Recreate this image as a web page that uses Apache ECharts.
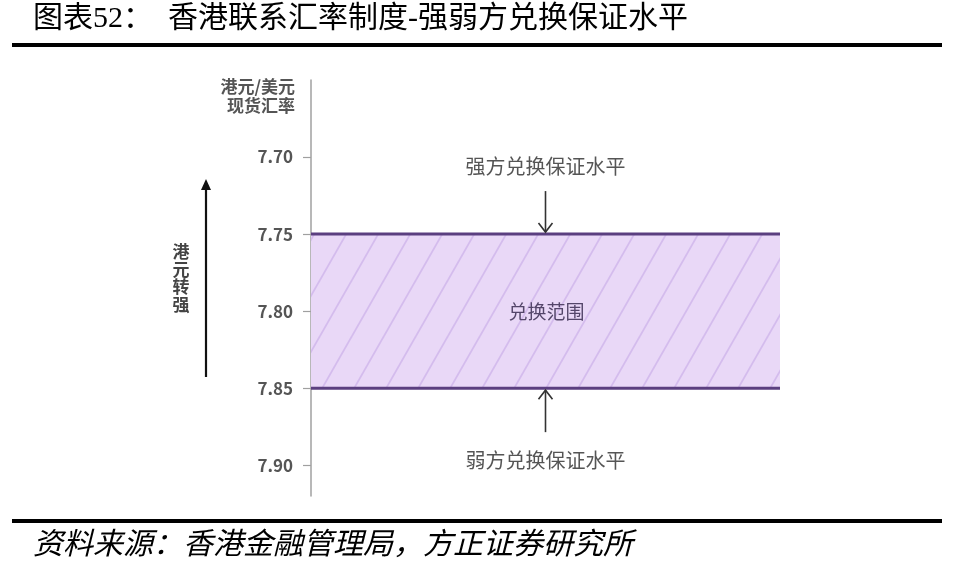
<!DOCTYPE html>
<html><head><meta charset="utf-8">
<script src="https://cdn.jsdelivr.net/npm/echarts@6/dist/echarts.min.js"></script>
<style>html,body{margin:0;padding:0;background:#fff}#c{width:954px;height:571px}</style>
</head><body><div id="c"></div>
<script>
// ---- data ----
const titleText = '图表52：  香港联系汇率制度-强弱方兑换保证水平';
const sourceText = '资料来源：香港金融管理局，方正证券研究所';
const yTicks = [7.70, 7.75, 7.80, 7.85, 7.90];
const yRange = [7.65, 7.92];
const bandBounds = [7.75, 7.85];          // strong-side, weak-side convertibility undertakings
const bandLabel = '兑换范围';
const strongLabel = '强方兑换保证水平';
const weakLabel = '弱方兑换保证水平';
const axisNameLines = ['港元/美元', '现货汇率'];
const sideLabel = '港元转强';

// ---- hatch pattern ----
function makePattern() {
  const W = 32, H = 56;
  const c = document.createElement('canvas');
  c.width = W; c.height = H;
  const g = c.getContext('2d');
  g.fillStyle = '#e9d8f7';
  g.fillRect(0, 0, W, H);
  g.strokeStyle = '#d4bced';
  g.lineWidth = 1.8;
  for (const [dx, dy] of [[0,0],[W,0],[-W,0],[0,H],[0,-H],[W,-H],[-W,H]]) {
    g.beginPath();
    g.moveTo(0 + dx, H + dy);
    g.lineTo(W + dx, 0 + dy);
    g.stroke();
  }
  return c;
}
const hatch = makePattern();

const FONT = "'Noto Sans CJK SC', sans-serif";
const chart = echarts.init(document.getElementById('c'), null, {renderer: 'canvas'});

function chevron(x, y, dir) { // dir: 1 = pointing down, -1 = pointing up
  return {
    type: 'polyline',
    shape: {points: [[x - 7, y - dir * 9], [x, y], [x + 7, y - dir * 9]]},
    style: {stroke: '#333', lineWidth: 1.6, fill: null}
  };
}

chart.setOption({
  animation: false,
  backgroundColor: '#fff',
  grid: {left: 311, right: 174, top: 80, bottom: 75},
  xAxis: {type: 'value', min: 0, max: 1, show: false},
  yAxis: {
    type: 'value', inverse: true, min: yRange[0], max: yRange[1],
    axisLine: {show: true, lineStyle: {color: '#a0a0a0', width: 1.5}},
    axisTick: {show: true, length: 8, customValues: yTicks, lineStyle: {color: '#a0a0a0', width: 1.2}},
    axisLabel: {
      customValues: yTicks, margin: 18,
      formatter: v => v.toFixed(2),
      fontSize: 17, fontWeight: 'bold', color: '#555', fontFamily: FONT
    },
    splitLine: {show: false}
  },
  series: [{
    type: 'custom',
    data: [[bandBounds[0], bandBounds[1]]],
    renderItem: function (params, api) {
      const top = api.coord([0, api.value(0)]);
      const bot = api.coord([1, api.value(1)]);
      const x0 = top[0], x1 = bot[0], y0 = top[1], y1 = bot[1];
      const cx = (x0 + x1) / 2;
      const children = [
        {type: 'rect', shape: {x: x0, y: y0, width: x1 - x0, height: y1 - y0},
         style: {fill: {image: hatch, repeat: 'repeat'}}},
        {type: 'line', shape: {x1: x0, y1: y0, x2: x1, y2: y0}, style: {stroke: '#5b3f80', lineWidth: 3}},
        {type: 'line', shape: {x1: x0, y1: y1, x2: x1, y2: y1}, style: {stroke: '#5b3f80', lineWidth: 3}},
        {type: 'text', style: {text: bandLabel, x: cx + 1, y: (y0 + y1) / 2 + 1, align: 'center', verticalAlign: 'middle',
          fill: '#54466a', fontSize: 19, fontFamily: FONT}},
        // strong side arrow + label
        {type: 'line', shape: {x1: cx, y1: y0 - 43, x2: cx, y2: y0 - 2}, style: {stroke: '#333', lineWidth: 1.6}},
        chevron(cx, y0 - 2, 1),
        {type: 'text', style: {text: strongLabel, x: cx, y: y0 - 68, align: 'center', verticalAlign: 'middle',
          fill: '#555', fontSize: 20, fontFamily: FONT}},
        // weak side arrow + label
        {type: 'line', shape: {x1: cx, y1: y1 + 2, x2: cx, y2: y1 + 44}, style: {stroke: '#333', lineWidth: 1.6}},
        chevron(cx, y1 + 2, -1),
        {type: 'text', style: {text: weakLabel, x: cx, y: y1 + 72, align: 'center', verticalAlign: 'middle',
          fill: '#555', fontSize: 20, fontFamily: FONT}}
      ];
      return {type: 'group', children: children};
    }
  }],
  graphic: [
    {type: 'text', left: 33, top: 4, style: {text: titleText, fontSize: 30, fill: '#000',
      fontFamily: "'Liberation Serif', 'Noto Sans CJK SC', serif"}},
    {type: 'rect', shape: {x: 12, y: 43, width: 930, height: 4}, style: {fill: '#000'}},
    {type: 'rect', shape: {x: 12, y: 519, width: 930, height: 4}, style: {fill: '#000'}},
    {type: 'text', left: 33, top: 531, style: {text: sourceText, fontSize: 30, fill: '#000', fontStyle: 'italic',
      fontFamily: "'Liberation Serif', 'Noto Sans CJK SC', serif"}},
    {type: 'text', style: {text: axisNameLines.join('\n'), x: 295, y: 96, align: 'right', verticalAlign: 'middle',
      fontSize: 17, fontWeight: 'bold', fill: '#555', lineHeight: 19, fontFamily: FONT}},
    {type: 'text', style: {text: sideLabel.split('').join('\n'), x: 181, y: 278, align: 'center', verticalAlign: 'middle',
      fontSize: 17, fontWeight: 'bold', fill: '#444', lineHeight: 17.5, fontFamily: FONT}},
    {type: 'line', shape: {x1: 206, y1: 188, x2: 206, y2: 377}, style: {stroke: '#111', lineWidth: 2.2}},
    {type: 'polygon', shape: {points: [[206, 179], [201, 190], [211, 190]]}, style: {fill: '#111'}}
  ]
});
</script></body></html>
